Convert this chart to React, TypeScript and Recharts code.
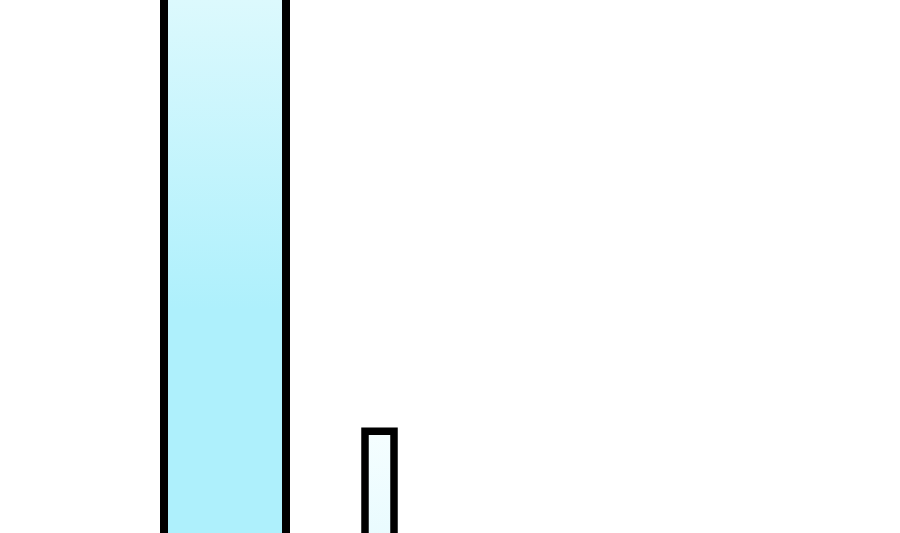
import { BarChart, Bar, XAxis, YAxis } from 'recharts';

// categories and values (y scale 0–100, first bar runs past the top)
const categories = ['A', 'B'];
const tallValues = [130, null];
const shortValues = [null, 23];

const data = categories.map((name, i) => ({
  name,
  tall: tallValues[i],
  short: shortValues[i],
}));

export default function App() {
  return (
    <div style={{ position: 'fixed', left: 0, top: 0, width: 900, height: 533, overflow: 'hidden', background: '#fff' }}>
      <BarChart
        width={900}
        height={560}
        data={data}
        margin={{ top: 0, right: 444, left: 148, bottom: 0 }}
      >
        <defs>
          <linearGradient id="tallFill" gradientUnits="userSpaceOnUse" x1="0" y1="0" x2="0" y2="310">
            <stop offset="0%" stopColor="#dcf9fd" />
            <stop offset="100%" stopColor="#aef0fc" />
          </linearGradient>
          <linearGradient id="shortFill" x1="0" y1="0" x2="0" y2="1">
            <stop offset="0%" stopColor="#f5feff" />
            <stop offset="100%" stopColor="#e6fafe" />
          </linearGradient>
        </defs>
        <XAxis xAxisId="a" dataKey="name" hide padding={{ left: 0, right: 0 }} />
        <XAxis xAxisId="b" dataKey="name" hide padding={{ left: 0, right: 0 }} />
        <YAxis hide domain={[0, 100]} allowDataOverflow />
        <Bar
          xAxisId="a"
          dataKey="tall"
          barSize={122}
          fill="url(#tallFill)"
          stroke="#000"
          strokeWidth={8}
          isAnimationActive={false}
        />
        <Bar
          xAxisId="b"
          dataKey="short"
          barSize={29}
          fill="url(#shortFill)"
          stroke="#000"
          strokeWidth={7.5}
          isAnimationActive={false}
        />
      </BarChart>
    </div>
  );
}
